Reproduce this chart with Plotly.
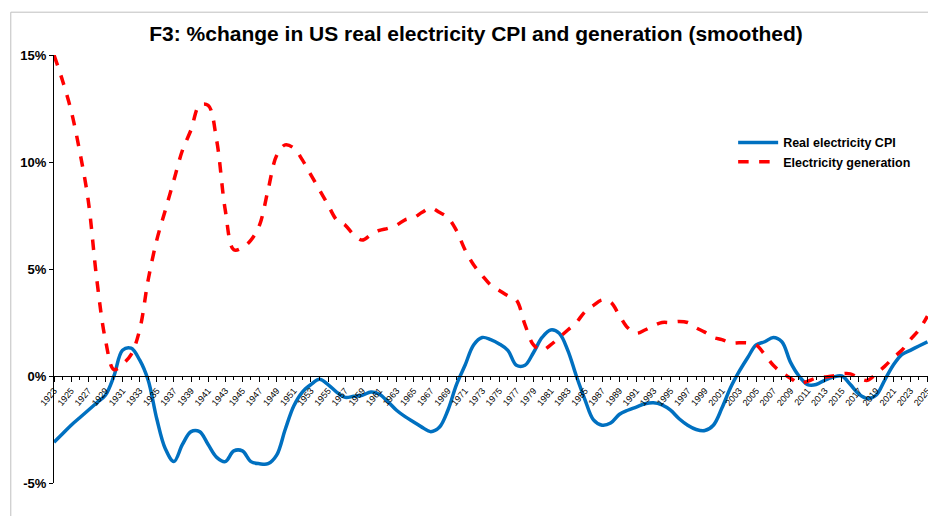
import plotly.graph_objects as go

years = list(range(1923, 2026))

cpi = [-3.1, -2.7, -2.3, -1.95, -1.6, -1.25, -0.9, 0.0, 1.2, 1.3, 0.75, -0.2, -2.0, -3.4, -4.0, -3.2, -2.6, -2.6,
       -3.2, -3.8, -4.0, -3.5, -3.5, -4.0, -4.1, -4.1, -3.7, -2.5, -1.4, -0.75, -0.4, -0.15, -0.4, -0.75, -1.0,
       -0.95, -0.9, -0.75, -0.85, -1.2, -1.6, -1.9, -2.15, -2.4, -2.6, -2.4, -1.6, -0.4, 0.5, 1.45, 1.8, 1.7,
       1.5, 1.2, 0.5, 0.5, 1.1, 1.8, 2.15, 2.0, 1.2, 0.0, -1.1, -2.05, -2.3, -2.2, -1.8, -1.6, -1.45, -1.3,
       -1.25, -1.35, -1.6, -2.0, -2.3, -2.5, -2.55, -2.3, -1.5, -0.55, 0.2, 0.85, 1.45, 1.6, 1.8, 1.6, 0.65,
       0.0, -0.4, -0.4, -0.2, -0.05, 0.0, -0.4, -0.85, -1.05, -0.9, -0.2, 0.5, 1.0, 1.2, 1.4, 1.6]

gen = [15.0, 13.8, 12.4, 10.5, 8.2, 4.5, 1.7, 0.3, 0.55, 1.0, 2.15, 4.5, 6.35, 7.75, 9.15, 10.55, 11.5, 12.65,
       12.65, 11.0, 7.75, 5.9, 6.0, 6.35, 7.05, 8.7, 10.3, 10.8, 10.65, 10.1, 9.4, 8.7, 8.0, 7.3, 7.05, 6.6,
       6.35, 6.6, 6.8, 6.9, 7.05, 7.3, 7.4, 7.65, 7.85, 7.65, 7.4, 6.8, 5.9, 5.2, 4.7, 4.25, 4.0, 3.75, 3.55,
       2.4, 1.45, 1.2, 1.45, 1.8, 2.15, 2.5, 3.0, 3.3, 3.55, 3.45, 2.85, 2.25, 2.0, 2.15, 2.35, 2.5, 2.5,
       2.55, 2.5, 2.25, 2.05, 1.8, 1.7, 1.55, 1.55, 1.55, 1.45, 1.0, 0.5, 0.15, -0.1, -0.35, -0.25, -0.1,
       -0.05, 0.0, 0.1, 0.1, -0.1, -0.2, 0.1, 0.45, 0.85, 1.2, 1.7, 2.15, 2.8]

y_ticks = [-5, 0, 5, 10, 15]
y_labels = ["-5%", "0%", "5%", "10%", "15%"]
font = "Liberation Sans"

fig = go.Figure()
fig.add_trace(go.Scatter(x=years, y=cpi, name="Real electricity CPI", mode="lines",
                         line=dict(color="#0070C0", width=3.5, shape="spline")))
fig.add_trace(go.Scatter(x=years, y=gen, name="Electricity generation", mode="lines",
                         line=dict(color="#FF0000", width=3.5, dash="dash", shape="spline")))

fig.update_layout(
    width=936, height=516,
    margin=dict(l=46, r=8, t=47, b=41),
    paper_bgcolor="white", plot_bgcolor="white",
    title=dict(text="<b>F3: %change in US real electricity CPI and generation (smoothed)</b>",
               x=0.5, xanchor="center", y=0.965, font=dict(family=font, size=21, color="black")),
    font=dict(family=font, color="black"),
    xaxis=dict(range=[1923, 2026], tickvals=list(range(1923, 2026, 2)), ticks="outside", ticklen=5,
               tickcolor="black", minor=dict(dtick=1, ticks="outside", ticklen=3, tickcolor="black"),
               tickangle=-50, tickfont=dict(size=9, family=font), showgrid=False, zeroline=False,
               showline=True, linecolor="black", linewidth=1, anchor="free", position=0.25),
    yaxis=dict(range=[-5, 15], tickvals=y_ticks, ticktext=["<b>%s</b>" % t for t in y_labels],
               tickfont=dict(size=13, family=font), showgrid=False, zeroline=False, showline=True,
               linecolor="black", linewidth=1, ticks="outside", ticklen=4, tickcolor="black"),
    legend=dict(x=0.77, y=0.83, xanchor="left", yanchor="top", bgcolor="rgba(0,0,0,0)",
                font=dict(size=12.5, family=font), tracegroupgap=8, itemwidth=40),
    shapes=[dict(type="rect", xref="paper", yref="paper", x0=-0.049, x1=1.008, y0=-0.09, y1=1.1,
                 line=dict(color="#BFBFBF", width=1))],
)
fig.for_each_trace(lambda t: t.update(name="<b>%s</b>" % t.name))
fig.write_html("out.html")
